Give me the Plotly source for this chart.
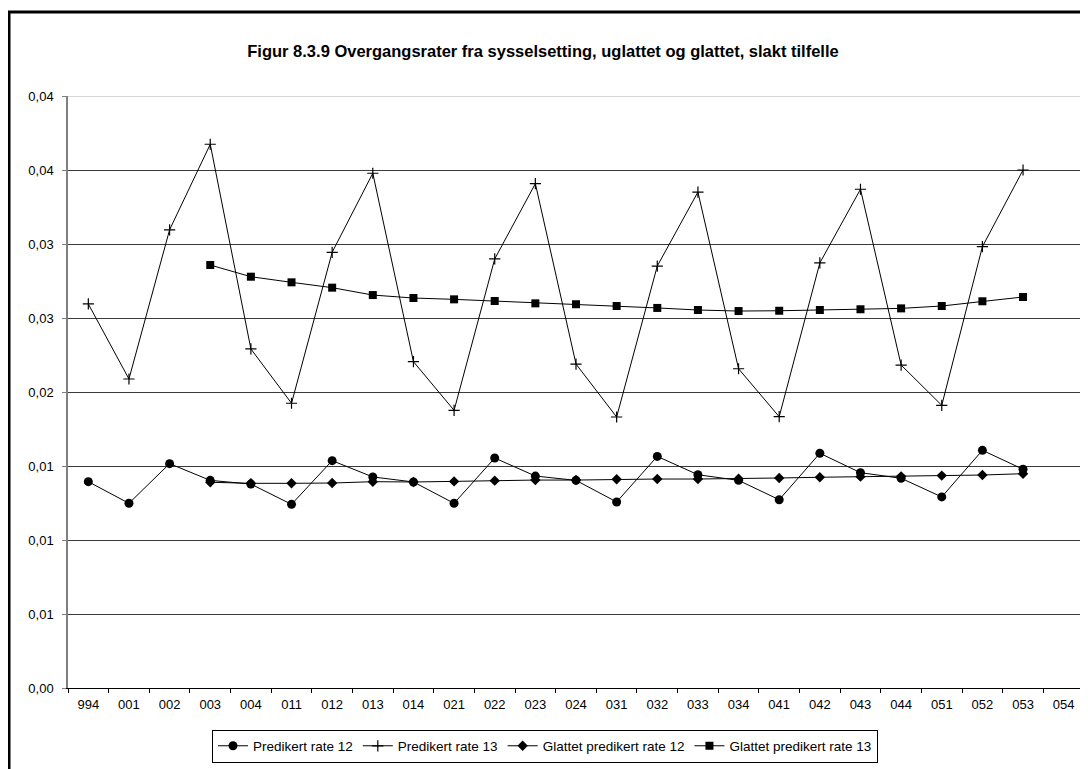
import plotly.graph_objects as go

categories = ["994", "001", "002", "003", "004", "011", "012", "013", "014",
              "021", "022", "023", "024", "031", "032", "033", "034",
              "041", "042", "043", "044", "051", "052", "053", "054"]

predikert_12 = [0.01394, 0.01248, 0.01516, 0.01403, 0.01378, 0.01241, 0.01536, 0.01426, 0.01392,
                0.01248, 0.01554, 0.01432, 0.01403, 0.01257, 0.01565, 0.01441, 0.01403,
                0.01272, 0.01586, 0.01455, 0.01417, 0.01291, 0.01606, 0.01478, None]

predikert_13 = [0.02595, 0.02088, 0.03096, 0.03674, 0.02291, 0.01924, 0.02944, 0.03478, 0.02205,
                0.01876, 0.02899, 0.03408, 0.02189, 0.01831, 0.02851, 0.03351, 0.02157,
                0.01833, 0.02872, 0.03370, 0.02182, 0.01910, 0.02982, 0.03500, None]

glattet_12 = [None, None, None, 0.01390, 0.01383, 0.01383, 0.01385, 0.01394, 0.01392,
              0.01396, 0.01401, 0.01405, 0.01405, 0.01410, 0.01412, 0.01412, 0.01414,
              0.01419, 0.01424, 0.01428, 0.01430, 0.01435, 0.01439, 0.01448, None]

glattet_13 = [None, None, None, 0.02858, 0.02779, 0.02741, 0.02705, 0.02655, 0.02635,
              0.02626, 0.02615, 0.02599, 0.02593, 0.02581, 0.02568, 0.02554, 0.02547,
              0.02549, 0.02554, 0.02559, 0.02565, 0.02581, 0.02613, 0.02642, None]

title_text = "Figur 8.3.9 Overgangsrater fra sysselsetting, uglattet og glattet, slakt tilfelle"

FONT = "Liberation Sans, Arial, sans-serif"

fig = go.Figure()
line = dict(color="black", width=1)
fig.add_trace(go.Scatter(x=categories, y=predikert_12, name="Predikert rate 12", mode="lines+markers",
                         line=line, marker=dict(symbol="circle", size=9, color="black")))
fig.add_trace(go.Scatter(x=categories, y=predikert_13, name="Predikert rate 13", mode="lines+markers",
                         line=line, marker=dict(symbol="cross-thin", size=8, color="black",
                                                line=dict(color="black", width=1.2))))
fig.add_trace(go.Scatter(x=categories, y=glattet_12, name="Glattet predikert rate 12", mode="lines+markers",
                         line=line, marker=dict(symbol="diamond", size=8, color="black")))
fig.add_trace(go.Scatter(x=categories, y=glattet_13, name="Glattet predikert rate 13", mode="lines+markers",
                         line=line, marker=dict(symbol="square", size=8, color="black")))

# page body has an 8px margin: work in screenshot coordinates, shifted by OFF
OFF = 8
W, H = 1088 - OFF, 769 - OFF
L, R, T, B = 68 - OFF, 1088 - 1084, 96 - OFF, 769 - 688
pw, ph = W - L - R, H - T - B


def px(sx):
    return (sx - OFF - L) / pw


def py(sy):
    return (H - B - (sy - OFF)) / ph


fig.update_layout(
    width=W, height=H,
    margin=dict(l=L, r=R, t=T, b=B),
    paper_bgcolor="white", plot_bgcolor="white",
    separators=", ",
    font=dict(family=FONT, size=13, color="black"),
    title=dict(text="<b>" + title_text + "</b>", x=(543 - OFF) / W, xanchor="center",
               y=1 - (51 - OFF) / H, yanchor="middle", font=dict(family=FONT, size=16.5, color="black")),
    showlegend=True,
    legend=dict(orientation="h", x=px(545), xanchor="center", y=py(746), yanchor="middle",
                bordercolor="black", borderwidth=1, bgcolor="white",
                font=dict(family=FONT, size=13.5), itemwidth=30, tracegroupgap=0),
    xaxis=dict(type="category", range=[-0.5, len(categories) - 0.5], tickson="boundaries",
               ticks="outside", ticklen=4, tickcolor="black", showline=True, linecolor="black",
               linewidth=1, showgrid=False, tickfont=dict(size=13), ticklabelstandoff=4,
               fixedrange=True),
    yaxis=dict(range=[0, 0.04], dtick=0.005, tickformat=".2f", ticks="outside", ticklen=4,
               tickcolor="#808080", showline=True, linecolor="#808080", linewidth=1.5,
               showgrid=True, gridcolor="#3a3a3a", gridwidth=1, zeroline=False,
               tickfont=dict(size=13), ticklabelstandoff=6, fixedrange=True),
    shapes=[
        dict(type="line", xref="paper", yref="y", x0=0, x1=1, y0=0.04, y1=0.04,
             line=dict(color="#c8c8c8", width=1.5), layer="above"),
        dict(type="rect", xref="paper", yref="paper", x0=px(9), x1=px(1110), y0=py(800), y1=py(12),
             line=dict(color="black", width=3), fillcolor="rgba(0,0,0,0)", layer="above"),
    ],
)

fig.write_html("out.html")
